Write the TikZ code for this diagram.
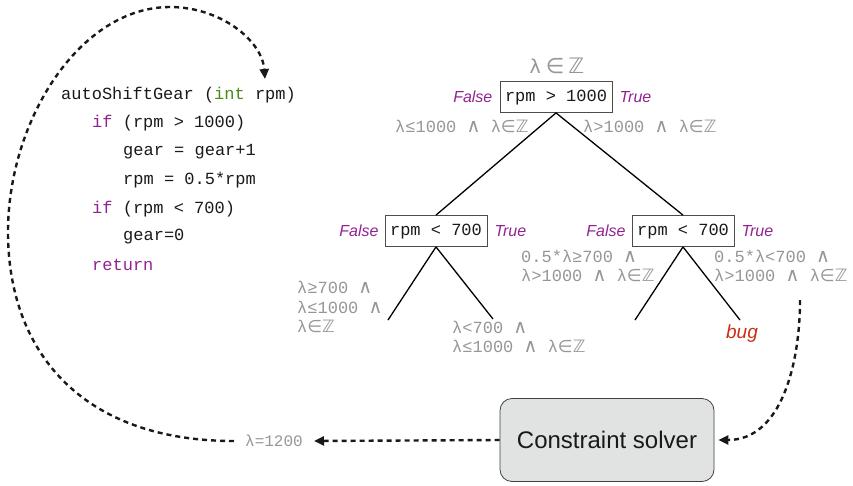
\documentclass[tikz,border=0pt]{standalone}
\usepackage{fontspec}
\setmainfont{Liberation Sans}
\setsansfont{Liberation Sans}
\setmonofont{Liberation Mono}
\newfontfamily\symf{DejaVu Sans}
\newfontfamily\symbig[Scale=1.25]{DejaVu Sans}
\newfontfamily\symand[Scale=1.12]{DejaVu Sans}
\usetikzlibrary{arrows.meta}
\definecolor{kwpurple}{RGB}{145,35,145}
\definecolor{kwgreen}{RGB}{70,140,20}
\definecolor{lblgray}{RGB}{150,150,150}
\definecolor{bugred}{RGB}{205,45,20}
\definecolor{solverfill}{RGB}{225,226,226}
\newcommand\myand{{\symand ∧}}
\newcommand\myin{{\symf ∈}}
\newcommand\myZ{{\symf ℤ}}
\begin{document}
\begin{tikzpicture}[x=1pt,y=-1pt,
  codeline/.style={anchor=west, inner sep=0pt, font=\ttfamily\fontsize{17}{20}\selectfont, text=black!90},
  cond/.style={draw=black!70, line width=0.8pt, font=\ttfamily\fontsize{17}{20}\selectfont,
    inner xsep=5pt, inner ysep=2pt, minimum height=31pt, text height=11pt, text depth=3pt, text=black!90},
  tf/.style={font=\sffamily\itshape\fontsize{16}{19}\selectfont, text=kwpurple, inner sep=0pt},
  cons/.style={font=\ttfamily\fontsize{17}{19.5}\selectfont, text=lblgray, inner sep=0pt, align=left},
  branch/.style={line width=1.3pt, black},
  flow/.style={line width=2.4pt, black!90, dash pattern=on 5pt off 4pt, -{Triangle[length=10pt,width=9pt]}},
  solverbox/.style={draw=black!75, line width=0.8pt, fill=solverfill, rounded corners=12pt,
    minimum width=214pt, minimum height=83pt, font=\sffamily\fontsize{24}{28}\selectfont, text=black!90}
]
\useasboundingbox (0,0) rectangle (853,485);

% code
\node[codeline] (c1) at (61,95) {autoShiftGear (\textcolor{kwgreen}{int} rpm)};
\node[codeline] (c2) at (92,123) {\textcolor{kwpurple}{if} (rpm > 1000)};
\node[codeline] (c3) at (123,152) {gear = gear+1};
\node[codeline] (c4) at (123,180) {rpm = 0.5*rpm};
\node[codeline] (c5) at (92,209) {\textcolor{kwpurple}{if} (rpm < 700)};
\node[codeline] (c6) at (123,237) {gear=0};
\node[codeline] (c7) at (92,265) {\textcolor{kwpurple}{return}};
\coordinate (codein) at (265,79);

% tree
\node[cons] (top) at (557,66) {{\symf\fontsize{19}{22}\selectfont λ}\hspace{5pt}{\symbig ∈}\hspace{4pt}{\symbig ℤ}};
\node[cond] (root) at (556,97) {rpm > 1000};
\node[tf, anchor=east] (rf) at ([xshift=-7pt]root.west) {False};
\node[tf, anchor=west] (rt) at ([xshift=7pt]root.east) {True};
\node[cons, anchor=west] (rlc) at (395,126) {λ≤1000 \myand{} λ\myin\myZ};
\node[cons, anchor=west] (rrc) at (583,126) {λ>1000 \myand{} λ\myin\myZ};

\node[cond] (lc) at (436,231) {rpm < 700};
\node[tf, anchor=east] (lf) at ([xshift=-6pt]lc.west) {False};
\node[tf, anchor=west] (lt) at ([xshift=7pt]lc.east) {True};

\node[cond] (rc) at (683,231) {rpm < 700};
\node[tf, anchor=east] (rcf) at ([xshift=-6pt]rc.west) {False};
\node[tf, anchor=west] (rct) at ([xshift=7pt]rc.east) {True};

\draw[branch] (root.south) -- (lc.north);
\draw[branch] (root.south) -- (rc.north);

\coordinate (ll) at (388,320);
\coordinate (lr) at (493,319);
\coordinate (rl) at (635,320);
\coordinate (rr) at (740,320);
\draw[branch] (lc.south) -- (ll);
\draw[branch] (lc.south) -- (lr);
\draw[branch] (rc.south) -- (rl);
\draw[branch] (rc.south) -- (rr);

\node[cons, anchor=west] (llc) at (297,307) {λ≥700 \myand\\λ≤1000 \myand\\λ\myin\myZ};
\node[cons, anchor=west] (lrc) at (452,337) {λ<700 \myand\\λ≤1000 \myand{} λ\myin\myZ};
\node[cons, anchor=west] (rlcc) at (521,266) {0.5*λ≥700 \myand\\λ>1000 \myand{} λ\myin\myZ};
\node[cons, anchor=west] (rrcc) at (714,266) {0.5*λ<700 \myand\\λ>1000 \myand{} λ\myin\myZ};
\node[font=\sffamily\itshape\fontsize{19}{22}\selectfont, text=bugred, inner sep=0pt] (bug) at (742,334) {bug};

% solver and result
\node[solverbox] (solver) at (607,440) {Constraint solver};
\node[font=\ttfamily\fontsize{16}{19}\selectfont, text=lblgray, inner xsep=11pt, inner ysep=0pt] (lam) at (274,441) {λ=1200};
\coordinate (rstart) at (800,300);

\draw[flow] (rstart) to[out=-90,in=0] ([xshift=4pt]solver.east);
\draw[flow] (solver.west) -- (lam.east);
\draw[flow] (lam.west) .. controls (80,441) and (8,350) .. (8,232)
  .. controls (8,120) and (80,7) .. (170,7)
  .. controls (220,7) and (262,40) .. (codein);
\end{tikzpicture}
\end{document}
